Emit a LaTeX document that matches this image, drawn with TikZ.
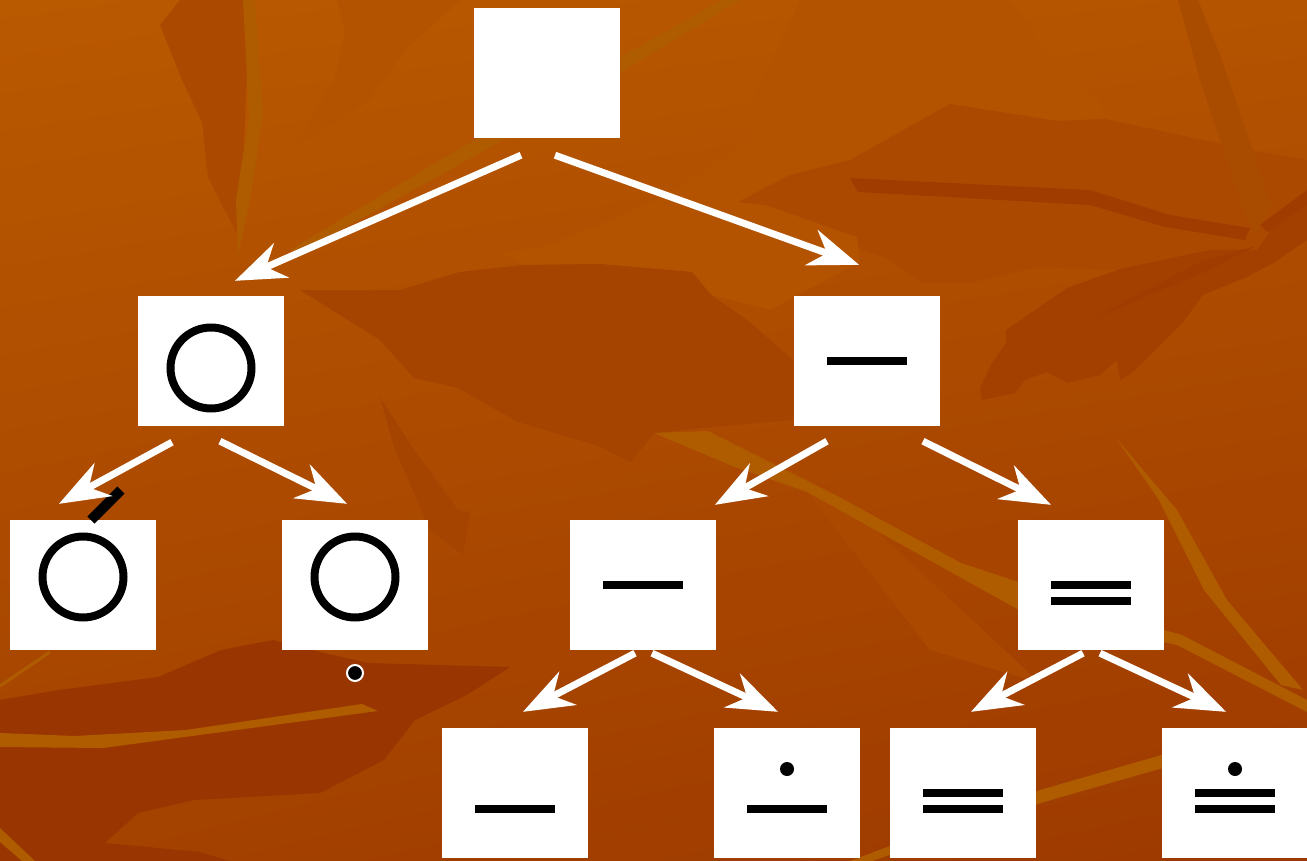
\documentclass[tikz,border=0pt]{standalone}
\usetikzlibrary{arrows.meta,calc,shadings}
\definecolor{bgUL}{HTML}{B95900}
\definecolor{bgUR}{HTML}{B45400}
\definecolor{bgLL}{HTML}{A44200}
\definecolor{bgLR}{HTML}{9D3900}
\definecolor{leafL}{HTML}{B35300}
\definecolor{leafM}{HTML}{AB4900}
\definecolor{leafD}{HTML}{A34000}
\definecolor{leafC}{HTML}{A54300}
\definecolor{leafDD}{HTML}{993500}
\definecolor{veinY}{HTML}{AF5C00}
\definecolor{veinD}{HTML}{A03C00}
\definecolor{veinT}{HTML}{A94C00}
\begin{document}
\begin{tikzpicture}[x=1pt,y=-1pt,
  box/.style={fill=white,draw=none,minimum width=146pt,minimum height=130pt,inner sep=0pt},
  arr/.style={draw=white,line width=7pt,-{Stealth[length=51pt,width=38pt,inset=17pt,line width=0pt]}},
  bar/.style={draw=black,line width=8pt},
  ring/.style={draw=black,line width=8pt},
  dotmark/.style={fill=black},
]
\useasboundingbox (0,0) rectangle (1307,861);
% ---------- background ----------
\shade[upper left=bgUL,upper right=bgUR,lower left=bgLL,lower right=bgLR] (0,0) rectangle (1307,861);
% light facets
\fill[leafL] (800,0) -- (767,72) -- (746,109) -- (757,135) -- (701,173) -- (655,200) -- (591,228) -- (543,247) -- (499,252) -- (522,265) -- (600,264) -- (692,272) -- (711,295) -- (770,310) -- (860,262) -- (857,237) -- (766,205) -- (738,202) -- (790,175) -- (850,160) -- (950,104) -- (1057,121) -- (1105,119) -- (1100,100) -- (1050,60) -- (1010,0) -- cycle;
\fill[leafL] (337,0) -- (345,32) -- (335,77) -- (293,148) -- (367,103) -- (407,48) -- (460,0) -- cycle;
\fill[leafM] (160,25) -- (180,0) -- (250,0) -- (240,240) -- (208,177) -- (202,122) -- (182,80) -- cycle;
% medium band right
\fill[leafM] (738,202) -- (790,175) -- (850,160) -- (950,104) -- (1057,121) -- (1105,119) -- (1250,150) -- (1307,160) -- (1307,215) -- (1257,250) -- (1120,270) -- (1037,267) -- (970,283) -- (923,283) -- (885,257) -- (860,250) -- (857,237) -- (766,205) -- cycle;
% dark lobe right
\fill[leafD] (1006,330) -- (1067,288) -- (1120,269) -- (1210,250) -- (1257,250) -- (1273,227) -- (1307,200) -- (1307,240) -- (1275,262) -- (1247,277) -- (1203,295) -- (1183,322) -- (1133,372) -- (1120,380) -- (1117,360) -- (1100,375) -- (1067,383) -- (1047,372) -- (1025,380) -- (1015,393) -- (982,400) -- (980,388) -- (992,363) -- (1006,343) -- cycle;
% veins right
\fill[veinD] (850,178) -- (1090,190) -- (1170,215) -- (1250,228) -- (1245,240) -- (1165,227) -- (1090,205) -- (858,192) -- cycle;
\fill[veinT] (1178,0) -- (1198,0) -- (1222,60) -- (1272,208) -- (1255,234) -- (1240,200) -- (1200,80) -- cycle;
\fill[veinD] (1090,320) -- (1200,262) -- (1256,246) -- (1205,272) -- cycle;
\fill[veinD] (1260,225) -- (1307,190) -- (1307,205) -- (1268,232) -- cycle;
% dark central leaf
\fill[leafC] (522,265) -- (600,264) -- (692,272) -- (711,295) -- (747,320) -- (793,360) -- (793,420) -- (700,428) -- (655,433) -- (630,462) -- (596,445) -- (518,422) -- (458,388) -- (414,378) -- (380,340) -- (300,290) -- (400,290) -- (460,272) -- cycle;
\fill[leafC] (380,397) -- (414,450) -- (458,510) -- (470,512) -- (463,555) -- (430,530) -- (394,447) -- cycle;
% light wedge lower middle
\fill[leafM] (654,433) -- (720,431) -- (840,497) -- (1040,683) -- (930,650) -- (807,492) -- cycle;
% dark bottom-left leaf
\fill[leafDD] (0,700) -- (59,690) -- (158,677) -- (221,650) -- (273,640) -- (320,652) -- (368,663) -- (510,667) -- (467,695) -- (415,720) -- (384,760) -- (320,793) -- (194,800) -- (138,813) -- (105,843) -- (200,852) -- (230,861) -- (0,861) -- cycle;
% yellowish streaks
\fill[veinY] (0,733) -- (75,736) -- (186,730) -- (362,704) -- (378,711) -- (103,748) -- (0,747) -- cycle;
\draw[veinY,line width=3pt] (0,686) -- (50,652);
\fill[veinY] (654,433) -- (708,431) -- (839,497) -- (961,563) -- (1164,630) -- (1182,635) -- (1307,700) -- (1307,712) -- (1177,645) -- (1164,642) -- (1019,610) -- (807,492) -- (735,467) -- cycle;
\fill[veinY] (1116,438) -- (1159,500) -- (1204,590) -- (1281,685) -- (1303,690) -- (1227,600) -- (1177,510) -- cycle;
\fill[veinY] (850,861) -- (1040,790) -- (1165,754) -- (1170,766) -- (1044,802) -- (872,861) -- cycle;
\fill[veinY] (243,0) -- (255,0) -- (263,115) -- (250,200) -- (238,255) -- (236,200) -- (249,117) -- cycle;
\fill[veinY] (722,0) -- (740,0) -- (628,68) -- (450,170) -- (300,252) -- (290,250) -- (440,160) -- (615,60) -- cycle;
\fill[veinY] (0,828) -- (35,861) -- (22,861) -- (0,842) -- cycle;
% ---------- tree nodes ----------
\node[box] (root) at (547,73) {};
\node[box] (n1) at (211,361) {};
\node[box] (n2) at (867,361) {};
\node[box] (n11) at (83,585) {};
\node[box] (n12) at (355,585) {};
\node[box] (n21) at (643,585) {};
\node[box] (n22) at (1091,585) {};
\node[box] (n211) at (515,793) {};
\node[box] (n212) at (787,793) {};
\node[box] (n221) at (963,793) {};
\node[box] (n222) at (1235,793) {};
% ---------- symbols ----------
\draw[ring] ($(n1)+(0,7)$) circle (40.5pt);
\draw[ring] ($(n11)+(0,-8)$) circle (40.5pt);
\draw[ring] ($(n12)+(0,-8)$) circle (40.5pt);
\draw[bar] ($(n2)+(-40,0)$) -- ($(n2)+(40,0)$);
\draw[bar] ($(n21)+(-40,0)$) -- ($(n21)+(40,0)$);
\draw[bar] ($(n22)+(-40,0)$) -- ($(n22)+(40,0)$);
\draw[bar] ($(n22)+(-40,16)$) -- ($(n22)+(40,16)$);
\draw[bar] ($(n211)+(-40,16)$) -- ($(n211)+(40,16)$);
\draw[bar] ($(n212)+(-40,16)$) -- ($(n212)+(40,16)$);
\fill[dotmark] ($(n212)+(0,-24)$) circle (7pt);
\draw[bar] ($(n221)+(-40,0)$) -- ($(n221)+(40,0)$);
\draw[bar] ($(n221)+(-40,16)$) -- ($(n221)+(40,16)$);
\draw[bar] ($(n222)+(-40,0)$) -- ($(n222)+(40,0)$);
\draw[bar] ($(n222)+(-40,16)$) -- ($(n222)+(40,16)$);
\fill[dotmark] ($(n222)+(0,-24)$) circle (7pt);
% stray marks
\draw[black,line width=10pt] (91,520) -- (121,490);
\filldraw[fill=black,draw=white,line width=2pt] (355,673) circle (8pt);
% ---------- connectors ----------
\draw[arr] ($(root.south)+(-26,17)$) -- ($(n1.north)+(24,-15)$);
\draw[arr] ($(root.south)+(8,17)$) -- ($(n2.north)+(-8,-31)$);
\draw[arr] ($(n1.south)+(-39,16)$) -- ($(n11.north)+(-24,-16)$);
\draw[arr] ($(n1.south)+(9,15)$) -- ($(n12.north)+(-8,-16)$);
\draw[arr] ($(n2.south)+(-40,15)$) -- ($(n21.north)+(72,-15)$);
\draw[arr] ($(n2.south)+(56,15)$) -- ($(n22.north)+(-40,-15)$);
\draw[arr] ($(n21.south)+(-8,3)$) -- ($(n211.north)+(8,-16)$);
\draw[arr] ($(n21.south)+(9,3)$) -- ($(n212.north)+(-9,-16)$);
\draw[arr] ($(n22.south)+(-8,3)$) -- ($(n221.north)+(8,-16)$);
\draw[arr] ($(n22.south)+(9,3)$) -- ($(n222.north)+(-9,-16)$);
\end{tikzpicture}
\end{document}
